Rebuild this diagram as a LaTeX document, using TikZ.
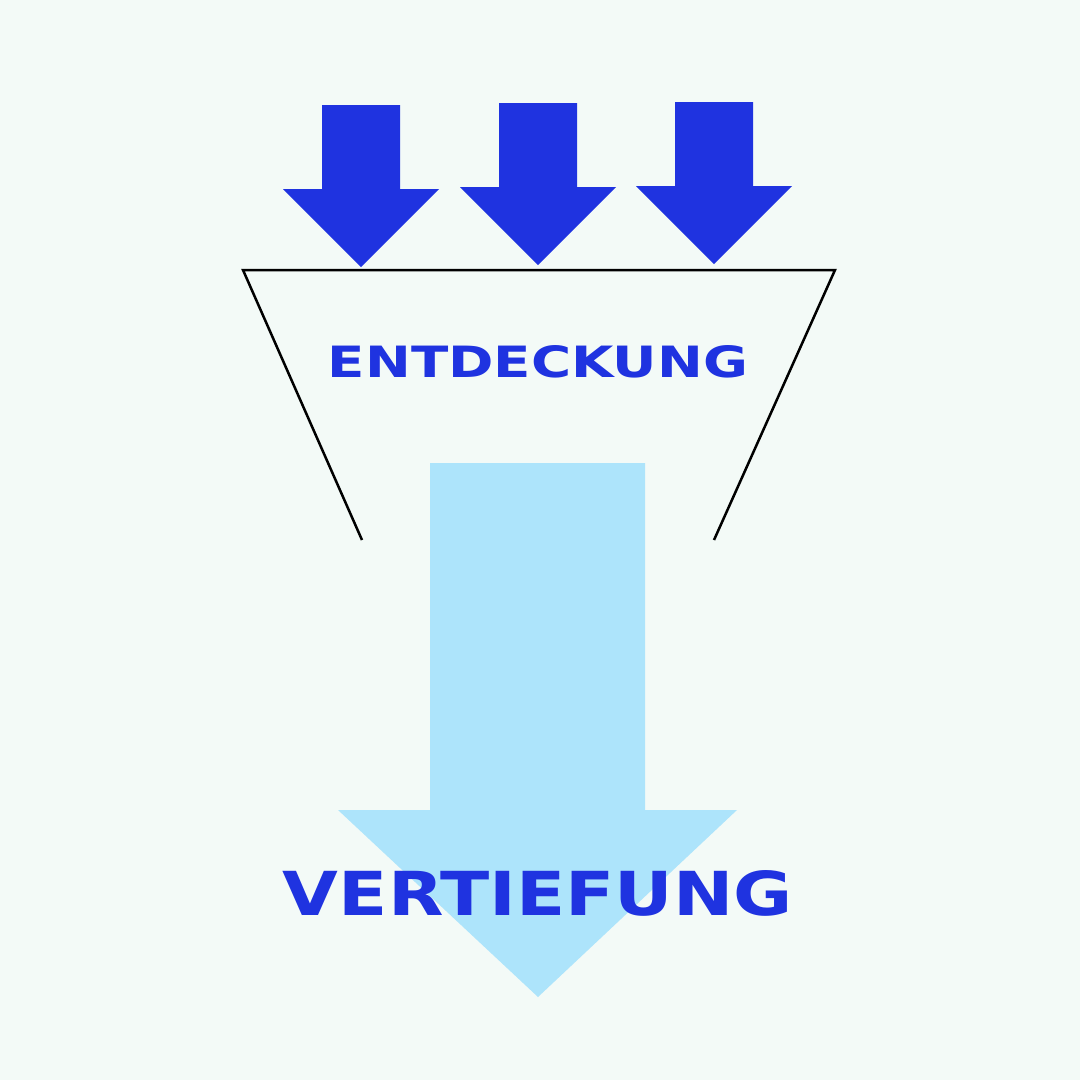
\documentclass[tikz,border=0pt]{standalone}
\usepackage{fontspec}
\setmainfont{DejaVu Sans}
\definecolor{bg}{HTML}{F3FAF7}
\definecolor{dblue}{HTML}{1F33E0}
\definecolor{lblue}{HTML}{ADE4FB}
\begin{document}
\begin{tikzpicture}[x=1pt,y=-1pt,
  smallarrow/.style={fill=dblue},
  funnel/.style={draw=black,line width=2.5pt},
  label/.style={text=dblue,inner sep=0pt,font=\bfseries}]
\fill[bg] (0,0) rectangle (1080,1080);
\useasboundingbox (0,0) rectangle (1080,1080);
% big light arrow
\fill[lblue] (430,463) -- (645,463) -- (645,810) -- (737,810) -- (538,997) -- (338,810) -- (430,810) -- cycle;
% three small arrows
\foreach \cx/\ty/\hy in {361/105/189, 538/103/187, 714/102/186}{
  \fill[smallarrow] (\cx-39,\ty) -- (\cx+39,\ty) -- (\cx+39,\hy) -- (\cx+78,\hy) -- (\cx,\hy+78) -- (\cx-78,\hy) -- (\cx-39,\hy) -- cycle;
}
% funnel
\coordinate (tl) at (243,270);
\coordinate (tr) at (835,270);
\coordinate (bl) at (362,540);
\coordinate (br) at (714,540);
\draw[funnel] (bl) -- (tl) -- (tr) -- (br);
\node[label] (entd) at (538,362) {\resizebox{420pt}{32pt}{ENTDECKUNG}};
\node[label] (vert) at (538,893) {\resizebox{510pt}{45pt}{VERTIEFUNG}};
\end{tikzpicture}
\end{document}
